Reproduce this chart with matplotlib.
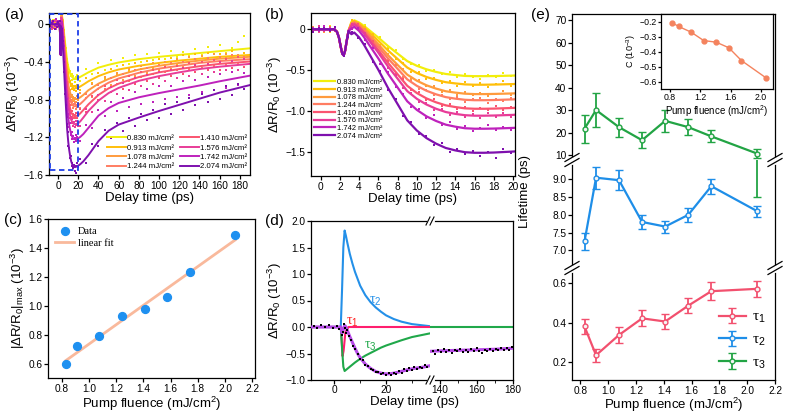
import numpy as np
import matplotlib.pyplot as plt
from matplotlib.lines import Line2D
from matplotlib.patches import Rectangle

plt.rcParams['font.family'] = ['Liberation Sans', 'DejaVu Sans']
plt.rcParams['mathtext.fontset'] = 'custom'
plt.rcParams['mathtext.rm'] = 'Liberation Sans'
plt.rcParams['mathtext.it'] = 'Liberation Sans:italic'
plt.rcParams['mathtext.sf'] = 'Liberation Sans'
plt.rcParams['axes.linewidth'] = 0.9
plt.rcParams['xtick.major.size'] = 3
plt.rcParams['ytick.major.size'] = 3
plt.rcParams['xtick.minor.size'] = 2
plt.rcParams['xtick.major.width'] = 0.9
plt.rcParams['ytick.major.width'] = 0.9
plt.rcParams['xtick.labelsize'] = 7.3
plt.rcParams['ytick.labelsize'] = 7.3
plt.rcParams['axes.labelsize'] = 9.5
plt.rcParams['xtick.major.pad'] = 1.0
plt.rcParams['ytick.major.pad'] = 1.0
plt.rcParams['axes.labelpad'] = 0.8

# ---------------- data ----------------
fluence = [0.830, 0.913, 1.078, 1.244, 1.410, 1.576, 1.742, 2.074]
colors = ['#F2EE0C', '#FFBF0A', '#FF9B3D', '#FF7D62', '#FA5470', '#E83C98', '#BE22BC', '#7E10AE']

# fit curves of (a)/(b): shared onset then one list per fluence
t_fit = [-9, 1.4, 1.7, 1.9, 2.1, 2.25, 2.4, 2.55, 2.7, 2.9,
         3.2, 3.5, 4, 4.5, 5, 6, 7, 8, 9, 10, 11, 12, 13, 14, 15, 16, 17, 18,
         20, 22, 25, 30, 40, 50, 60, 80, 100, 120, 140, 160, 190]
fit_onset = [0, 0, -0.03, -0.10, -0.22, -0.30, -0.32, -0.26, -0.15, -0.02]
fit_rest = [
    [0.09, 0.11, 0.083, 0.042, -0.006, -0.102, -0.205, -0.298, -0.39, -0.448, -0.491, -0.523, -0.548, -0.561, -0.572, -0.575, -0.575, -0.574,
     -0.568, -0.558, -0.54, -0.51, -0.46, -0.43, -0.405, -0.37, -0.345, -0.325, -0.305, -0.285, -0.255],
    [0.08, 0.10, 0.069, 0.022, -0.033, -0.142, -0.259, -0.364, -0.469, -0.536, -0.585, -0.621, -0.649, -0.664, -0.676, -0.68, -0.68, -0.678,
     -0.672, -0.66, -0.64, -0.605, -0.55, -0.51, -0.48, -0.44, -0.41, -0.385, -0.365, -0.345, -0.325],
    [0.07, 0.09, 0.055, 0.0, -0.06, -0.184, -0.317, -0.437, -0.556, -0.631, -0.687, -0.728, -0.76, -0.777, -0.79, -0.795, -0.795, -0.793,
     -0.787, -0.775, -0.75, -0.70, -0.63, -0.58, -0.54, -0.48, -0.44, -0.41, -0.385, -0.365, -0.345],
    [0.06, 0.08, 0.042, -0.015, -0.082, -0.215, -0.357, -0.485, -0.614, -0.694, -0.754, -0.798, -0.832, -0.851, -0.865, -0.87, -0.87, -0.868,
     -0.86, -0.845, -0.815, -0.76, -0.68, -0.62, -0.575, -0.515, -0.47, -0.44, -0.41, -0.39, -0.37],
    [0.05, 0.07, 0.028, -0.035, -0.108, -0.254, -0.411, -0.552, -0.693, -0.782, -0.848, -0.896, -0.933, -0.954, -0.97, -0.975, -0.975, -0.973,
     -0.965, -0.945, -0.91, -0.85, -0.75, -0.68, -0.63, -0.56, -0.51, -0.475, -0.445, -0.42, -0.395],
    [0.04, 0.06, 0.015, -0.052, -0.13, -0.287, -0.455, -0.606, -0.758, -0.853, -0.923, -0.975, -1.015, -1.038, -1.054, -1.06, -1.06, -1.058,
     -1.05, -1.03, -0.99, -0.92, -0.81, -0.73, -0.675, -0.60, -0.55, -0.51, -0.475, -0.45, -0.42],
    [0.01, 0.03, -0.02, -0.095, -0.183, -0.358, -0.545, -0.714, -0.883, -0.989, -1.068, -1.125, -1.17, -1.195, -1.214, -1.22, -1.22, -1.218,
     -1.21, -1.195, -1.165, -1.10, -0.97, -0.89, -0.835, -0.775, -0.73, -0.69, -0.65, -0.605, -0.545],
    [-0.06, -0.04, -0.099, -0.188, -0.291, -0.497, -0.719, -0.918, -1.117, -1.242, -1.335, -1.403, -1.456, -1.486, -1.508, -1.515, -1.515, -1.512,
     -1.50, -1.485, -1.455, -1.39, -1.24, -1.13, -1.065, -0.99, -0.92, -0.855, -0.79, -0.725, -0.645],
]

# measured points before time zero (a only)
t_dot_pre = [-8, -6.5, -5, -3.5, -2]
dots_pre = [
    [0.03, -0.02, 0.05, 0.01, -0.03],
    [-0.01, 0.04, -0.03, 0.02, 0.05],
    [0.05, 0.0, 0.02, -0.04, 0.01],
    [-0.04, 0.03, 0.0, 0.05, -0.02],
    [0.02, -0.05, 0.04, -0.01, 0.03],
    [0.0, 0.02, -0.04, 0.03, -0.05],
    [0.04, -0.03, 0.01, -0.02, 0.06],
    [-0.02, 0.01, 0.03, -0.05, 0.0],
]
# measured points, early window (used in a and b)
t_dot_b = [-0.8, -0.2, 0.4, 1.0, 1.5, 2.1, 2.4, 2.8, 3.3, 3.9, 4.6, 5.4, 6.2, 7.0, 7.8,
           8.6, 9.4, 10.2, 11.0, 11.8, 12.6, 13.4, 14.2, 15.0, 15.8, 16.6, 17.4, 18.2, 19.0, 19.8]
dots_b = [
    [0.02, -0.03, 0.03, 0.04, -0.01, -0.24, -0.30, -0.05, 0.12, 0.06, 0.05, -0.07, -0.10, -0.22, -0.25,
     -0.37, -0.43, -0.44, -0.51, -0.50, -0.55, -0.53, -0.59, -0.55, -0.58, -0.61, -0.56, -0.58, -0.54, -0.57],
    [-0.02, 0.03, 0.01, -0.03, 0.02, -0.20, -0.33, -0.10, 0.11, 0.05, 0.03, -0.06, -0.19, -0.24, -0.37,
     -0.41, -0.52, -0.53, -0.61, -0.60, -0.66, -0.63, -0.69, -0.65, -0.70, -0.66, -0.71, -0.67, -0.64, -0.69],
    [0.03, -0.01, -0.03, 0.02, 0.0, -0.23, -0.29, -0.06, 0.07, 0.08, -0.03, -0.09, -0.23, -0.30, -0.44,
     -0.49, -0.61, -0.62, -0.70, -0.70, -0.77, -0.75, -0.80, -0.77, -0.81, -0.78, -0.82, -0.79, -0.76, -0.80],
    [-0.03, 0.02, 0.03, -0.02, 0.01, -0.21, -0.32, -0.09, 0.08, 0.03, 0.0, -0.16, -0.22, -0.38, -0.44,
     -0.59, -0.63, -0.73, -0.74, -0.81, -0.80, -0.86, -0.83, -0.89, -0.85, -0.84, -0.90, -0.86, -0.88, -0.84],
    [0.01, -0.03, 0.02, 0.03, -0.02, -0.24, -0.30, -0.07, 0.05, 0.06, -0.07, -0.14, -0.31, -0.39, -0.55,
     -0.61, -0.75, -0.77, -0.87, -0.86, -0.94, -0.92, -0.98, -0.95, -1.00, -0.96, -0.99, -0.94, -0.99, -0.95],
    [-0.01, 0.04, -0.02, 0.01, 0.02, -0.20, -0.33, -0.10, 0.07, 0.0, -0.04, -0.22, -0.30, -0.48, -0.56,
     -0.72, -0.78, -0.89, -0.90, -0.99, -0.98, -1.05, -1.01, -1.08, -1.04, -1.09, -1.03, -1.07, -1.03, -1.08],
    [0.02, -0.02, 0.04, -0.01, 0.0, -0.24, -0.29, -0.06, 0.0, 0.02, -0.13, -0.23, -0.42, -0.52, -0.71,
     -0.79, -0.95, -0.98, -1.09, -1.05, -1.18, -1.14, -1.22, -1.19, -1.25, -1.21, -1.18, -1.24, -1.20, -1.23],
    [-0.03, 0.02, 0.01, -0.02, 0.03, -0.22, -0.33, -0.09, -0.03, -0.11, -0.18, -0.40, -0.51, -0.74, -0.86,
     -1.06, -1.14, -1.29, -1.31, -1.42, -1.40, -1.50, -1.47, -1.53, -1.49, -1.56, -1.50, -1.58, -1.47, -1.52],
]
# measured points, late window (a only)
t_dot_a = [22, 28, 34, 40, 46, 52, 58, 64, 70, 76, 82, 88, 94, 100,
           106, 112, 118, 124, 130, 136, 142, 148, 154, 160, 166, 172, 178, 184]
dots_a = [
    [-0.60, -0.47, -0.53, -0.41, -0.48, -0.38, -0.44, -0.36, -0.42, -0.33, -0.40, -0.31, -0.38, -0.30,
     -0.37, -0.28, -0.35, -0.29, -0.34, -0.26, -0.33, -0.24, -0.31, -0.22, -0.30, -0.25, -0.19, -0.12],
    [-0.70, -0.57, -0.62, -0.52, -0.58, -0.47, -0.53, -0.43, -0.50, -0.41, -0.47, -0.39, -0.46, -0.37,
     -0.43, -0.36, -0.42, -0.33, -0.41, -0.32, -0.39, -0.30, -0.38, -0.31, -0.36, -0.28, -0.35, -0.30],
    [-0.73, -0.78, -0.63, -0.69, -0.56, -0.64, -0.52, -0.59, -0.47, -0.55, -0.44, -0.52, -0.41, -0.49,
     -0.40, -0.47, -0.37, -0.45, -0.35, -0.43, -0.34, -0.42, -0.32, -0.41, -0.31, -0.40, -0.33, -0.37],
    [-0.89, -0.74, -0.77, -0.64, -0.69, -0.57, -0.63, -0.53, -0.60, -0.49, -0.56, -0.46, -0.53, -0.43,
     -0.51, -0.41, -0.49, -0.40, -0.47, -0.37, -0.46, -0.36, -0.44, -0.35, -0.43, -0.33, -0.42, -0.35],
    [-0.90, -0.93, -0.76, -0.80, -0.66, -0.72, -0.59, -0.69, -0.55, -0.63, -0.51, -0.60, -0.49, -0.57,
     -0.45, -0.55, -0.44, -0.53, -0.41, -0.51, -0.40, -0.49, -0.38, -0.48, -0.37, -0.46, -0.35, -0.45],
    [-1.08, -0.90, -0.93, -0.75, -0.81, -0.67, -0.74, -0.62, -0.70, -0.57, -0.65, -0.54, -0.63, -0.51,
     -0.60, -0.48, -0.57, -0.46, -0.55, -0.43, -0.53, -0.42, -0.51, -0.40, -0.49, -0.39, -0.48, -0.37],
    [-1.24, -1.07, -1.10, -0.91, -0.97, -0.83, -0.92, -0.78, -0.88, -0.72, -0.85, -0.69, -0.82, -0.66,
     -0.79, -0.65, -0.77, -0.60, -0.75, -0.59, -0.72, -0.56, -0.70, -0.53, -0.68, -0.51, -0.64, -0.52],
    [-1.43, -1.47, -1.27, -1.29, -1.12, -1.21, -1.05, -1.13, -0.99, -1.08, -0.95, -1.02, -0.91, -0.99,
     -0.85, -0.95, -0.82, -0.91, -0.78, -0.86, -0.74, -0.83, -0.70, -0.79, -0.66, -0.75, -0.63, -0.69],
]
zoom_box_t = [-8, 20]
zoom_box_v = [-1.55, 0.11]

# (c)
peak_abs = [0.60, 0.72, 0.79, 0.93, 0.975, 1.06, 1.23, 1.49]
linfit_x = [0.830, 2.074]
linfit_y = [0.62, 1.455]

# (d) components for one fluence
t_tau1 = [-9, 2.6, 3.2, 3.6, 4.3, 5.5, 37]
v_tau1 = [0, 0, -0.55, -0.45, -0.10, 0, 0]
t_tau2 = [-9, 2.5, 3.0, 3.5, 4.0, 4.5, 5, 6, 7, 8, 10, 12, 14, 16, 18, 20, 23, 26, 30, 37]
v_tau2 = [0, 0, 0.7, 1.5, 1.82, 1.72, 1.60, 1.38, 1.20, 1.04, 0.78, 0.60, 0.47, 0.37, 0.29, 0.22, 0.15, 0.10, 0.055, 0.015]
t_tau3 = [-9, 2.5, 3.0, 3.5, 4.0, 5, 6, 8, 10, 12, 14, 16, 18, 20, 23, 26, 30, 33, 37]
v_tau3 = [0, 0, -0.4, -0.75, -0.83, -0.79, -0.75, -0.67, -0.60, -0.54, -0.49, -0.44, -0.39, -0.35, -0.30, -0.25, -0.19, -0.16, -0.12]
t_tau3_late = [134, 180]
v_tau3_late = [0, 0]
t_sum = [-9, 2.5, 3.0, 3.5, 4.0, 4.5, 5, 6, 7, 8, 9, 10, 12, 14, 16, 18, 20, 22, 25, 28, 31, 34, 37]
v_sum = [0, 0, -0.12, -0.05, 0.03, 0.0, -0.06, -0.18, -0.29, -0.40, -0.50, -0.58, -0.70, -0.78, -0.84, -0.87,
         -0.885, -0.88, -0.85, -0.81, -0.78, -0.76, -0.73]
t_sum_late = [134, 140, 150, 160, 170, 180]
v_sum_late = [-0.46, -0.45, -0.44, -0.43, -0.42, -0.40]
t_d_dots = [-8, -6.5, -5, -3.5, -2, -0.5, 1, 2, 2.8, 3.2, 3.6, 4.0, 4.4, 5, 5.8, 6.6, 7.4, 8.2, 9, 10, 11, 12,
            13, 14, 15, 16, 17, 18, 19, 20, 21, 22, 23, 24, 25, 26, 27, 28, 29, 30, 31, 32, 33, 34, 35, 36]
v_d_dots = [0.01, -0.02, 0.03, 0.0, 0.04, -0.01, 0.02, -0.03, -0.15, -0.10, 0.05, -0.02, -0.12, -0.05, -0.17,
            -0.25, -0.36, -0.41, -0.50, -0.60, -0.62, -0.72, -0.73, -0.80, -0.81, -0.85, -0.84, -0.89, -0.86, -0.91,
            -0.87, -0.90, -0.86, -0.89, -0.83, -0.86, -0.80, -0.83, -0.78, -0.81, -0.76, -0.79, -0.75, -0.77, -0.72, -0.75]
t_d_dots_late = [136, 137.5, 139, 140.5, 142, 143.5, 145, 146.5, 148, 149.5, 151, 152.5, 154, 155.5, 157,
                 158.5, 160, 161.5, 163, 164.5, 166, 167.5, 169, 170.5, 172, 173.5, 175, 176.5, 178, 179.5]
v_d_dots_late = [-0.45, -0.50, -0.44, -0.48, -0.42, -0.47, -0.44, -0.49, -0.43, -0.46, -0.41, -0.47, -0.44, -0.48, -0.42,
                 -0.45, -0.40, -0.46, -0.49, -0.43, -0.45, -0.41, -0.46, -0.42, -0.44, -0.39, -0.43, -0.40, -0.44, -0.38]

# (e) lifetimes
tau1 = [0.38, 0.235, 0.337, 0.421, 0.405, 0.485, 0.558, 0.57]
tau1_err = [0.04, 0.033, 0.039, 0.04, 0.036, 0.038, 0.045, 0.04]
tau2 = [7.25, 9.05, 8.98, 7.8, 7.67, 8.0, 8.81, 8.1]
tau2_err = [0.25, 0.31, 0.29, 0.21, 0.17, 0.19, 0.21, 0.165]
tau3 = [21.7, 30.0, 22.4, 16.6, 25.2, 22.4, 18.3, 10.6]
tau3_err = [6.3, 7.5, 4.2, 3.5, 4.8, 3.7, 2.7, 2.1]
amp_c = [-0.209, -0.233, -0.271, -0.327, -0.338, -0.375, -0.46, -0.578]

# ---------------- figure ----------------
W, H = 789, 417
fig = plt.figure(figsize=(W / 100, H / 100), dpi=100)


def box(x0, y0, x1, y1):
    return [x0 / W, 1 - y1 / H, (x1 - x0) / W, (y1 - y0) / H]


def brk(px, py, horizontal=False):
    # "//" break mark in pixel coordinates
    if horizontal:
        fig.add_artist(Line2D([(px - 2.5) / W, (px + 2.5) / W], [1 - py / H] * 2, color='white', lw=2, zorder=10))
        for off in (-2, 2):
            fig.add_artist(Line2D([(px + off - 2) / W, (px + off + 2) / W], [1 - (py + 4) / H, 1 - (py - 4) / H],
                                  color='k', lw=0.8, zorder=11))
    else:
        fig.add_artist(Line2D([px / W] * 2, [1 - (py - 2.5) / H, 1 - (py + 2.5) / H], color='white', lw=2, zorder=10))
        for off in (-2.5, 2.5):
            fig.add_artist(Line2D([(px - 7) / W, (px + 7) / W], [1 - (py + off + 4) / H, 1 - (py + off - 4) / H],
                                  color='k', lw=0.9, zorder=11))


def style(ax):
    ax.tick_params(top=False, right=False, direction='out')


labels = [f'{f:.3f} mJ/cm²' for f in fluence]
ylab = 'ΔR/R$_0$ (10$^{-3}$)'

# (a)
axa = fig.add_axes(box(49, 13, 250, 175))
handles = []
for i in range(8):
    axa.plot(t_dot_pre + t_dot_b + t_dot_a, dots_pre[i] + dots_b[i] + dots_a[i], 's', ms=1.8, mew=0, color=colors[i])
    ln, = axa.plot(t_fit, fit_onset + fit_rest[i], color=colors[i], lw=1.4, label=labels[i])
    handles.append(ln)
axa.add_patch(Rectangle((zoom_box_t[0], zoom_box_v[0]), zoom_box_t[1] - zoom_box_t[0],
                        zoom_box_v[1] - zoom_box_v[0], fill=False, ls=(0, (3, 2)), ec='#1F3FE8', lw=1.3, zorder=6))
axa.set_xlim(-9, 190)
axa.set_ylim(-1.6, 0.12)
axa.set_xticks(range(0, 181, 20))
axa.set_yticks([0, -0.4, -0.8, -1.2, -1.6])
axa.set_yticklabels(['0', '−0.4', '−0.8', '−1.2', '−1.6'])
axa.set_xlabel('Delay time (ps)')
axa.set_ylabel(ylab)
style(axa)
axa.legend(handles=handles, ncol=2, loc='lower right', bbox_to_anchor=(1.015, -0.005), fontsize=5.6, frameon=False,
           handlelength=2.4, handletextpad=0.2, columnspacing=0.7, labelspacing=0.25, borderpad=0.2)

# (b)
axb = fig.add_axes(box(311, 13, 515, 176))
handles = []
for i in range(8):
    axb.plot(t_dot_b, dots_b[i], 's', ms=2.0, mew=0, color=colors[i])
    ln, = axb.plot(t_fit, fit_onset + fit_rest[i], color=colors[i], lw=1.6, label=labels[i])
    handles.append(ln)
axb.set_xlim(-1, 20.2)
axb.set_ylim(-1.8, 0.2)
axb.set_xticks(range(0, 21, 2))
axb.set_yticks([0, -0.5, -1.0, -1.5])
axb.set_yticklabels(['0', '−0.5', '−1.0', '−1.5'])
axb.set_xlabel('Delay time (ps)')
axb.set_ylabel(ylab)
style(axb)
axb.legend(handles=handles, loc='lower left', bbox_to_anchor=(-0.01, 0.19), fontsize=5.4, frameon=False,
           handlelength=2.8, handletextpad=0.3, labelspacing=0.06, borderpad=0.2)

# (c)
axc = fig.add_axes(box(48, 219, 255, 378))
axc.plot(linfit_x, linfit_y, color='#F9B99C', lw=2.0, label='linear fit', zorder=2)
axc.scatter(fluence, peak_abs, s=32, color='#1E90F0', label='Data', zorder=3)
axc.set_xlim(0.7, 2.22)
axc.set_ylim(0.5, 1.6)
axc.set_xticks(np.arange(0.8, 2.21, 0.2))
axc.set_yticks(np.arange(0.6, 1.61, 0.2))
axc.set_xlabel('Pump fluence (mJ/cm$^2$)')
axc.set_ylabel('|ΔR/R$_0$|$_{\\rm max}$ (10$^{-3}$)')
style(axc)
hc, lc = axc.get_legend_handles_labels()
axc.legend(hc[::-1], lc[::-1], loc='upper left', frameon=False, prop={'family': 'Liberation Serif', 'size': 7.5},
           handlelength=1.8, handletextpad=0.4, labelspacing=0.3, borderaxespad=0.3)

# (d)
axd1 = fig.add_axes(box(311, 221, 430, 380))
axd2 = fig.add_axes(box(430, 221, 513, 380))
for ax in (axd1, axd2):
    ax.plot(t_d_dots + t_d_dots_late, v_d_dots + v_d_dots_late, 's', ms=1.8, mew=0, color='k', zorder=4)
    ax.plot(t_sum + t_sum_late, v_sum + v_sum_late, color='#B64BE6', lw=2.2, zorder=3)
    ax.plot(t_tau2, v_tau2, color='#2490E8', lw=1.5, zorder=2)
    ax.plot(t_tau1, v_tau1, color='#FF1E6E', lw=1.5, zorder=2)
    ax.plot(t_tau3 + t_tau3_late, v_tau3 + v_tau3_late, color='#20A84A', lw=1.5, zorder=2)
    ax.set_ylim(-1.0, 2.0)
    style(ax)
    ax.tick_params(axis='x', pad=0.5)
axd1.set_xlim(-9, 37)
axd2.set_xlim(134.5, 180)
axd1.set_xticks([0, 20])
axd1.set_xticks([10, 30], minor=True)
axd2.set_xticks([140, 160, 180])
axd2.set_xticks([150, 170], minor=True)
axd1.set_yticks(np.arange(-1.0, 2.01, 0.5))
axd1.spines['right'].set_visible(False)
axd2.spines['left'].set_visible(False)
axd2.tick_params(left=False, labelleft=False)
axd1.set_ylabel(ylab)
fig.text(415 / W, 1 - 402 / H, 'Delay time (ps)', ha='center', va='center', fontsize=9.5)
axd1.text(6.8, 0.09, 'τ$_1$', color='#FF2020', family='Liberation Serif', fontsize=10, ha='center', va='center')
axd1.text(15.8, 0.48, 'τ$_2$', color='#2490E8', family='Liberation Serif', fontsize=10, ha='center', va='center')
axd1.text(14.0, -0.37, 'τ$_3$', color='#20A84A', family='Liberation Serif', fontsize=10, ha='center', va='center')
brk(430, 221, horizontal=True)
brk(430, 380, horizontal=True)

# (e)
c1, c2, c3 = '#F2506E', '#1E8EE8', '#22A444'
axe_t = fig.add_axes(box(572, 14, 775, 160))
axe_m = fig.add_axes(box(572, 160, 775, 268))
axe_b = fig.add_axes(box(572, 268, 775, 380))
series = {'t1': (tau1, tau1_err, c1, 'τ$_1$'), 't2': (tau2, tau2_err, c2, 'τ$_2$'), 't3': (tau3, tau3_err, c3, 'τ$_3$')}
# each segment draws what falls in its range (tau3 error bar reaches into the middle one)
for ax, keys in ((axe_t, ['t3']), (axe_m, ['t2', 't3']), (axe_b, ['t1', 't2', 't3'])):
    for k in keys:
        y, e, c, lab = series[k]
        if ax is axe_b and k != 't1':
            y = [np.nan] * len(y)
        ax.errorbar(fluence, y, yerr=e, color=c, lw=1.6, marker='o', ms=3.5, mfc='#f4f4f4', mec=c, mew=1.0,
                    capsize=3, capthick=1.3, elinewidth=1.3, label=lab)
    ax.set_xlim(0.74, 2.2)
    style(ax)
axe_t.set_ylim(7.8, 72.7)
axe_t.set_yticks(range(10, 71, 10))
axe_m.set_ylim(6.5, 9.55)
axe_m.set_yticks([7.0, 7.5, 8.0, 8.5, 9.0])
axe_m.set_yticklabels(['7.0', '7.5', '8.0', '8.5', '9.0'])
axe_b.set_ylim(0.11, 0.675)
axe_b.set_yticks([0.2, 0.4, 0.6])
axe_b.set_xticks(np.arange(0.8, 2.21, 0.2))
for ax in (axe_t, axe_m):
    ax.tick_params(bottom=False, labelbottom=False)
    ax.spines['bottom'].set_visible(False)
for ax in (axe_m, axe_b):
    ax.spines['top'].set_visible(False)
axe_b.set_xlabel('Pump fluence (mJ/cm$^2$)', labelpad=0.3)
fig.text(525 / W, 1 - 192 / H, 'Lifetime (ps)', rotation=90, ha='center', va='center', fontsize=9.5)
he, le = axe_b.get_legend_handles_labels()
axe_b.legend(he, le, loc='lower right', frameon=False, prop={'family': 'Liberation Serif', 'size': 11},
             handlelength=1.8, handletextpad=0.4, labelspacing=0.5, borderaxespad=0.2)
for py in (160, 268):
    brk(572, py)
    brk(775, py)

# inset of (e)
axi = fig.add_axes(box(661, 14, 773, 89))
axi.plot(fluence, amp_c, '-o', color='#F4835E', lw=1.0, ms=3.5, mfc='#F4835E')
axi.set_xlim(0.68, 2.16)
axi.set_ylim(-0.65, -0.15)
axi.set_xticks([0.8, 1.2, 1.6, 2.0])
axi.set_yticks([-0.2, -0.3, -0.4, -0.5, -0.6])
axi.tick_params(labelsize=6.3, length=2, pad=1, top=False, right=False)
axi.set_xlabel('Pump fluence (mJ/cm$^2$)', fontsize=7, labelpad=0.5)
axi.set_ylabel('C (10$^{-3}$)', fontsize=6.5, labelpad=1)

# panel letters
for s, x, y in (('(a)', 14, 15), ('(b)', 274, 15), ('(c)', 13, 220), ('(d)', 274, 221), ('(e)', 540, 15)):
    fig.text(x / W, 1 - y / H, s, ha='center', va='center', fontsize=11)

fig.savefig('out.png', dpi=100)
